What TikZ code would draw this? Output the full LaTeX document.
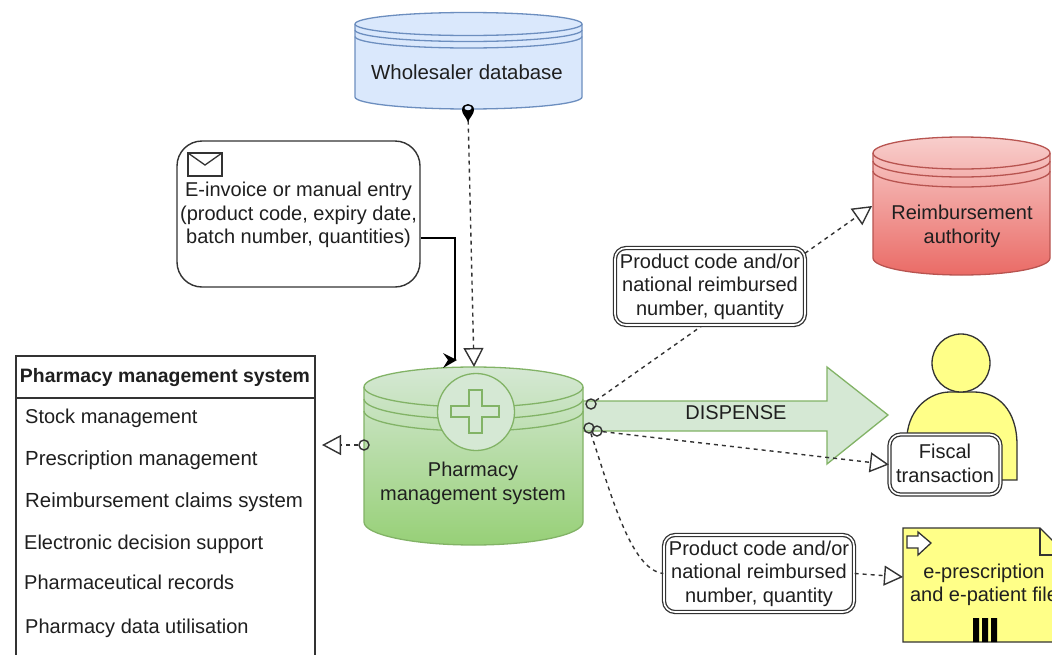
\documentclass[tikz,border=0pt]{standalone}
\usepackage{fontspec}
\setmainfont{Liberation Sans}
\usetikzlibrary{arrows.meta}
\definecolor{blueF}{HTML}{DAE8FC}\definecolor{blueS}{HTML}{6C8EBF}
\definecolor{greenT}{HTML}{D5E8D4}\definecolor{greenB}{HTML}{97D077}\definecolor{greenS}{HTML}{82B366}
\definecolor{redT}{HTML}{F8CECC}\definecolor{redB}{HTML}{EA6B66}\definecolor{redS}{HTML}{B85450}
\definecolor{yel}{HTML}{FFFF88}\definecolor{ink}{HTML}{333333}
\newcommand{\lab}{\fontsize{20}{23.6}\selectfont}
\newcommand{\labw}{\fontsize{20.4}{23.6}\selectfont}
\tikzset{
  txt/.style={inner sep=0pt,align=center,font=\lab,text=black!88},
  listitem/.style={inner sep=0pt,anchor=base west,font=\lab,text=black!88},
  dbl/.style={draw=ink,double=white,double distance=1.6pt,line width=1.3pt,fill=white,rounded corners=11pt,
     minimum width=190pt,minimum height=77pt,inner sep=0pt,align=center,font=\lab,text=black!88},
  port/.style={draw=ink,circle,line width=1.4pt,minimum size=10pt,inner sep=0pt},
  flow/.style={draw=ink,line width=1.4pt,dash pattern=on 4pt off 4pt},
  openT/.style={-{Triangle[open,fill=white,length=19pt,width=20pt,line width=1.4pt]}},
}
\begin{document}
\begin{tikzpicture}[x=1pt,y=-1pt]
\useasboundingbox (0,0) rectangle (1052,654);
\fill[white] (0,0) rectangle (1052,654);

% Wholesaler database
\path[fill=blueF,draw=blueS,line width=1.3pt] (355,24) arc[start angle=180,end angle=0,x radius=113.5,y radius=-11.5]
   -- (582,97) arc[start angle=0,end angle=-180,x radius=113.5,y radius=-12] -- cycle;
\draw[blueS,line width=1.3pt] (355,24) arc[start angle=180,end angle=360,x radius=113.5,y radius=-11.5];
\draw[blueS,line width=1.3pt] (355,30) arc[start angle=180,end angle=360,x radius=113.5,y radius=-11.5];
\draw[blueS,line width=1.3pt] (355,36.5) arc[start angle=180,end angle=360,x radius=113.5,y radius=-11.5];
\node[txt,font=\labw] (whole) at (467,72) {Wholesaler database};

% Reimbursement authority
\path[top color=redT,bottom color=redB,draw=redS,line width=1.3pt] (873,153) arc[start angle=180,end angle=0,x radius=88.5,y radius=-16]
   -- (1050,258) arc[start angle=0,end angle=-180,x radius=88.5,y radius=-17] -- cycle;
\draw[redS,line width=1.3pt] (873,153) arc[start angle=180,end angle=360,x radius=88.5,y radius=-16];
\draw[redS,line width=1.3pt] (873,161) arc[start angle=180,end angle=360,x radius=88.5,y radius=-16];
\draw[redS,line width=1.3pt] (873,171) arc[start angle=180,end angle=360,x radius=88.5,y radius=-16];
\node[txt] (reimb) at (962,226.5) {Reimbursement\\authority};

% Dispense arrow
\path[fill=greenT,draw=greenS,line width=1.3pt] (583,401) -- (827,401) -- (827,367) -- (888,415) -- (827,464) -- (827,431) -- (583,431) -- cycle;
\node[txt] (disp) at (736,413) {DISPENSE};

% Pharmacy management system cylinder
\path[top color=greenT,bottom color=greenB,draw=greenS,line width=1.3pt] (364,387) arc[start angle=180,end angle=0,x radius=109.5,y radius=-20]
   -- (583,522) arc[start angle=0,end angle=-180,x radius=109.5,y radius=-23] -- cycle;
\draw[greenS,line width=1.3pt] (364,387) arc[start angle=180,end angle=360,x radius=109.5,y radius=-20];
\draw[greenS,line width=1.3pt] (364,399) arc[start angle=180,end angle=360,x radius=109.5,y radius=-20];
\draw[greenS,line width=1.3pt] (364,411) arc[start angle=180,end angle=360,x radius=109.5,y radius=-20];
\node[circle,draw=greenS,fill=greenT,line width=1.3pt,minimum size=77pt,inner sep=0pt] (plus) at (476,412) {};
\path[draw=greenS,line width=1.3pt] (469,390) -- (482,390) -- (482,406) -- (499,406) -- (499,417) -- (482,417) -- (482,433) -- (469,433) -- (469,417) -- (451,417) -- (451,406) -- (469,406) -- cycle;
\node[txt] (pharm) at (473,483.5) {Pharmacy\\management system};
\coordinate (pharmTop) at (474,367);

% Customer
\path[fill=yel,draw=ink,line width=1.3pt] (907,480) -- (907,436) .. controls (909,408) and (930,392) .. (950,392) -- (974,392) .. controls (998,392) and (1017,410) .. (1017,445) -- (1017,480) -- cycle;
\node[circle,fill=yel,draw=ink,line width=1.3pt,minimum size=58pt,inner sep=0pt] (head) at (961,363) {};

% Document
\path[fill=yel,draw=ink,line width=1.3pt] (903,528) -- (1040,528) -- (1060,548) -- (1060,642) -- (903,642) -- cycle;
\draw[ink,line width=1.3pt] (1040,528) -- (1040,555) -- (1060,555);
\path[fill=white,draw=ink,line width=1.3pt] (907,536) -- (918,536) -- (918,532) -- (931,543) -- (918,555) -- (918,548) -- (907,548) -- cycle;
\fill[black] (973,618) rectangle (979,642) (982,618) rectangle (988,642) (991,618) rectangle (997,642);
\node[txt] (docu) at (984,585) {e-prescription\\and e-patient file};
\coordinate (docIn) at (903,577);

% Message box
\node[draw=ink,line width=1.4pt,fill=white,rounded corners=25pt,minimum width=243pt,minimum height=146pt,inner sep=0pt] (msg) at (298.5,214) {};
\node[txt] (msgt) at (298.5,215) {E-invoice or manual entry\\(product code, expiry date,\\batch number, quantities)};
\path[fill=white,draw=ink,line width=1.3pt] (188,153) rectangle (222,176);
\draw[ink,line width=1.3pt] (188,153) -- (205,165) -- (222,153);

% List box
\draw[ink,line width=1.4pt] (16,662) -- (16,356) -- (315,356) -- (315,662);
\draw[ink,line width=1.4pt] (16,398) -- (315,398);
\node[inner sep=0pt,font=\fontsize{19.4}{23.6}\selectfont\bfseries,text=black!88] (ltitle) at (165,378) {Pharmacy management system};
\node[listitem] (l1) at (25,423) {Stock management};
\node[listitem,font=\labw] (l2) at (25,465) {Prescription management};
\node[listitem,font=\labw] (l3) at (25,507) {Reimbursement claims system};
\node[listitem] (l4) at (24,549) {Electronic decision support};
\node[listitem] (l5) at (24,589) {Pharmaceutical records};
\node[listitem] (l6) at (25,633) {Pharmacy data utilisation};
\coordinate (listIn) at (322,445);

% Ports
\coordinate (reimbIn) at (872,206);
\node[port] (p1) at (591,404) {};
\node[port] (p2) at (597,431) {};
\node[port] (p3) at (589,428) {};
\node[port] (p5) at (364,445) {};

% Connectors
\draw[flow,openT] (p1) -- (reimbIn);
\node[dbl] (box1) at (710,286.5) {Product code and/or\\national reimbursed\\number, quantity};
\node[dbl,minimum width=111pt,minimum height=60pt] (fiscal) at (945,464.5) {};
\node[txt] (fiscalt) at (945,463.5) {Fiscal\\transaction};
\node[dbl] (box3) at (759,573.5) {Product code and/or\\national reimbursed\\number, quantity};
\draw[flow,openT] (p2) -- (fiscal.west);
\draw[flow] (p3) .. controls (610,490) and (630,570) .. (box3.west);
\draw[flow,openT] (box3.east) -- (docIn);
\draw[flow,openT] (p5) -- (listIn);

% Wholesaler link
\node[inner sep=0pt,minimum size=1pt] (drop) at (468,112) {};
\draw[flow,openT] (drop) -- (pharmTop);
\path[fill=black] (462,110) .. controls (462,102) and (474,102) .. (474,110) .. controls (474,114) and (470,117) .. (468,122) .. controls (466,117) and (462,114) .. (462,110) -- cycle;
\fill[blueF] (468,108) ellipse[x radius=3.5,y radius=2.2];

% Message link
\coordinate (msgIn) at (455,360);
\draw[black,line width=1.4pt] (msg.east |- 0,238) -- (455,238) -- (msgIn);
\path[fill=black] (443,353) -- (457,360) -- (443,368) -- (448,360) -- cycle;
\end{tikzpicture}
\end{document}
